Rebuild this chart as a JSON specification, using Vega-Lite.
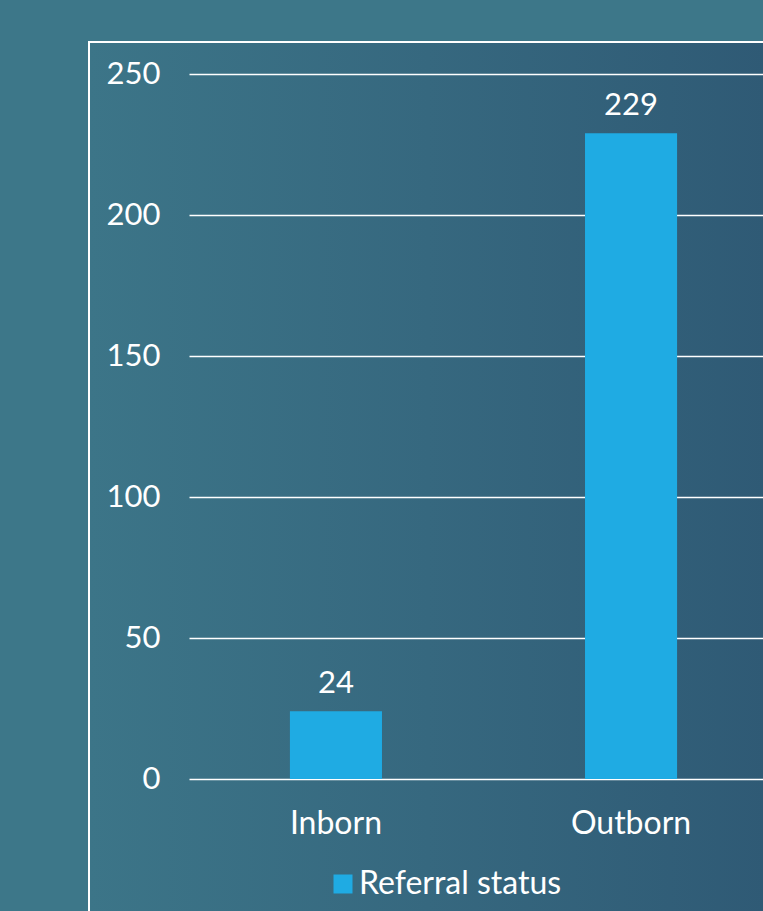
{
  "$schema": "https://vega.github.io/schema/vega-lite/v6.json",
  "autosize": "none",
  "width": 678,
  "height": 873,
  "padding": {"left": 89, "top": 42, "right": -4, "bottom": -4},
  "background": "#3d7789",
  "view": {
    "fill": {"gradient": "linear", "x1": 0, "x2": 1, "y1": 0, "y2": 0,
      "stops": [{"offset": 0, "color": "#3c7588"}, {"offset": 0.5, "color": "#36687f"}, {"offset": 1, "color": "#2f5a75"}]},
    "stroke": "white",
    "strokeWidth": 2
  },
  "data": {"values": [
    {"category": "Inborn", "count": 24, "series": "Referral status"},
    {"category": "Outborn", "count": 229, "series": "Referral status"}
  ]},
  "encoding": {
    "x": {"field": "category", "type": "nominal", "sort": null,
      "scale": {"range": [100, 689], "paddingInner": 0.688, "paddingOuter": 0.342},
      "axis": {"title": null, "orient": "bottom", "offset": -136, "domain": false, "ticks": false, "grid": false,
        "labelAngle": 0, "labelColor": "white", "labelFont": "Lato", "labelFontSize": 32,
        "labelBaseline": "alphabetic", "labelPadding": 54}},
    "y": {"field": "count", "type": "quantitative",
      "scale": {"domain": [0, 250], "range": [737, 32], "nice": false, "zero": true},
      "axis": {"title": null, "values": [0, 50, 100, 150, 200, 250], "offset": -100, "domain": false, "ticks": false,
        "grid": true, "gridColor": "white", "gridWidth": 1.5, "gridOpacity": 1,
        "labelColor": "white", "labelFont": "Lato", "labelFontSize": 31, "labelPadding": 29, "labelBaseline": "middle"}}
  },
  "layer": [
    {"mark": {"type": "bar"},
      "encoding": {"color": {"field": "series", "type": "nominal",
        "scale": {"range": ["#1fabe3"]},
        "legend": {"title": null, "orient": "none", "legendX": 238, "legendY": 826, "padding": 0,
          "symbolType": "square", "symbolSize": 361, "symbolStrokeWidth": 0, "symbolOpacity": 1,
          "labelColor": "white", "labelFont": "Lato", "labelFontSize": 32, "labelOffset": 0, "labelLimit": 500}}}},
    {"mark": {"type": "text", "fill": "white", "font": "Lato", "fontSize": 31, "baseline": "alphabetic", "dy": -18},
      "encoding": {"text": {"field": "count", "type": "quantitative"}}}
  ]
}
